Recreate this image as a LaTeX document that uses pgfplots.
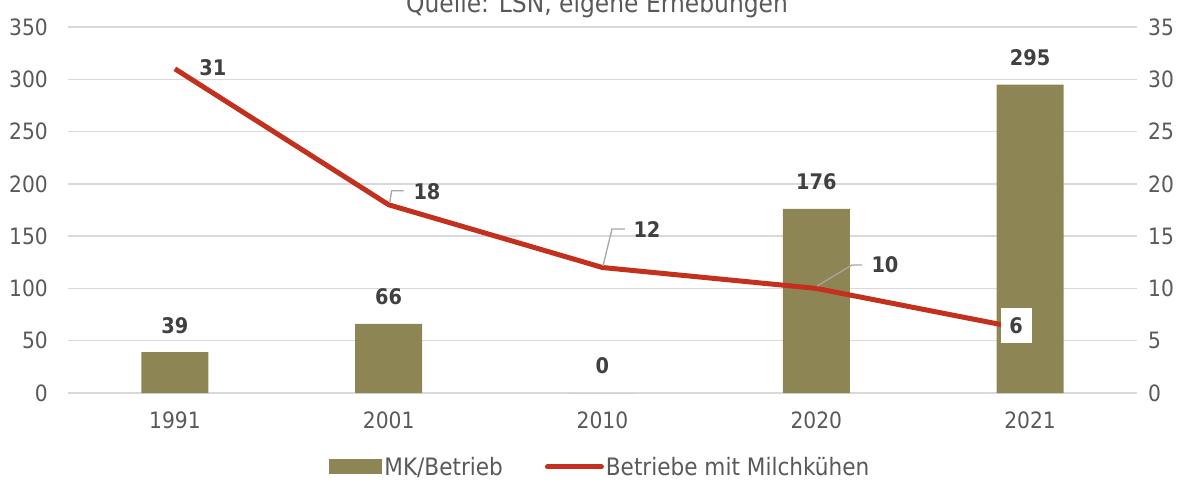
\documentclass[border=0pt]{standalone}
\usepackage{pgfplots}
\pgfplotsset{compat=1.18}
\usepackage{fontspec}
\setmainfont{DejaVu Sans}[FakeStretch=0.9]
\definecolor{barcol}{HTML}{8E8555}
\definecolor{linecol}{HTML}{C3311E}
\definecolor{gridcol}{HTML}{D9D9D9}
\definecolor{ticktxt}{HTML}{595959}
\definecolor{lbltxt}{HTML}{404040}
\definecolor{leadcol}{HTML}{A6A6A6}
\begin{document}
\begin{tikzpicture}[font=\fontsize{24}{28}\selectfont]
\useasboundingbox (0,0) rectangle (1184pt,482pt);
\node[anchor=base, text=ticktxt, font=\fontsize{26}{30}\selectfont] at (597pt,469pt) {Quelle: LSN, eigene Erhebungen};
\begin{axis}[
  at={(68pt,89pt)}, anchor=south west,
  scale only axis, width=1069pt, height=366pt,
  xmin=-0.5, xmax=4.5, ymin=0, ymax=350,
  xtick={0,1,2,3,4}, xticklabels={1991,2001,2010,2020,2021},
  ytick={0,50,...,350},
  ymajorgrids, grid style={gridcol, line width=1.5pt},
  axis line style={draw=none},
  major tick length=0pt,
  tick label style={text=ticktxt, font=\fontsize{22.5}{27}\selectfont},
  /pgf/number format/assume math mode=true,
  ytick pos=left, xtick pos=bottom,
  yticklabel style={anchor=east, inner sep=0pt, xshift=-20pt},
  xticklabel style={anchor=north, inner sep=0pt, yshift=-19pt},
  legend columns=2,
  legend style={at={(0.498,-0.202)}, anchor=center, draw=none, fill=none, text=ticktxt, font=\fontsize{24}{28}\selectfont, /tikz/every even column/.append style={column sep=40pt}},
  clip=false,
]
\addplot[ybar, bar width=67pt, fill=barcol, draw=none,
  nodes near coords, nodes near coords style={font=\bfseries\fontsize{21.5}{26}\selectfont, text=lbltxt, anchor=center, yshift=27pt},
  legend image code/.code={\fill[barcol] (0pt,-7.5pt) rectangle (53pt,7.5pt);}
] coordinates {(0,39) (1,66) (2,0) (3,176) (4,295)};
\addlegendentry{MK/Betrieb}
\addlegendimage{legend image code/.code={\draw[linecol, line width=5pt, line cap=round] (0pt,0pt) -- (54pt,0pt);}}
\addlegendentry{Betriebe mit Milchkühen}
\end{axis}
\begin{axis}[
  at={(68pt,89pt)}, anchor=south west,
  scale only axis, width=1069pt, height=366pt,
  xmin=-0.5, xmax=4.5, ymin=0, ymax=35,
  hide x axis,
  axis y line*=right, axis line style={draw=none},
  ytick={0,5,...,35}, major tick length=0pt,
  yticklabel style={anchor=west, inner sep=0pt, xshift=11pt, text=ticktxt, font=\fontsize{22.5}{27}\selectfont},
  /pgf/number format/assume math mode=true,
  clip=false,
]
\addplot[linecol, line width=5pt, line join=round] coordinates {(0,31) (1,18) (2,12) (3,10) (4,6)};
\draw[leadcol, line width=1.3pt] (axis cs:1,18) ++(1pt,2pt) -- ++(2pt,12pt) -- ++(12pt,0pt);
\draw[leadcol, line width=1.3pt] (axis cs:2,12) ++(0.5pt,1.5pt) -- ++(9pt,37pt) -- ++(13pt,0pt);
\draw[leadcol, line width=1.3pt] (axis cs:3,10) ++(0.7pt,2.4pt) -- ++(35pt,21pt) -- ++(10pt,0pt);
\tikzset{lbl/.style={font=\bfseries\fontsize{21.5}{26}\selectfont, text=lbltxt, inner sep=0pt}}
\node[lbl, xshift=38pt, yshift=1pt] at (axis cs:0,31) {31};
\node[lbl, xshift=38.3pt, yshift=12.8pt] at (axis cs:1,18) {18};
\node[lbl, xshift=44.5pt, yshift=37.5pt] at (axis cs:2,12) {12};
\node[lbl, xshift=68.7pt, yshift=23.4pt] at (axis cs:3,10) {10};
\node[lbl, fill=white, minimum width=31pt, minimum height=35pt, xshift=-14pt, yshift=4.3pt] at (axis cs:4,6) {6};
\end{axis}
\end{tikzpicture}
\end{document}
